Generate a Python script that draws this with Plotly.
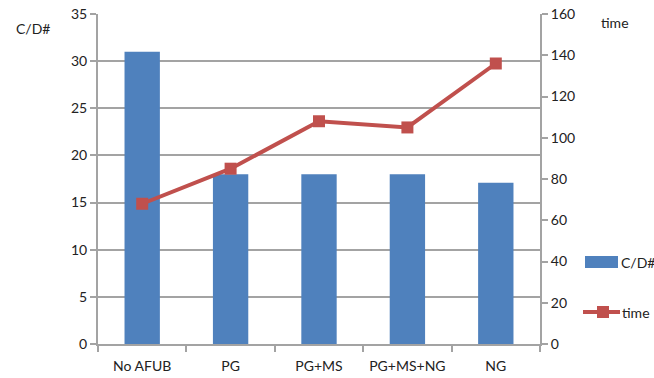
import plotly.graph_objects as go

categories = ["No AFUB", "PG", "PG+MS", "PG+MS+NG", "NG"]
cd_values = [31, 18, 18, 18, 17.1]
time_values = [68, 85, 108, 105, 136]

BLUE = "#4F81BD"
RED = "#C0504D"
GRID = "#A3A3A3"
FONT = "Lato"

fig = go.Figure()
fig.add_trace(go.Bar(x=categories, y=cd_values, name="C/D#", marker_color=BLUE,
                     marker_line_width=0, yaxis="y"))
fig.add_trace(go.Scatter(x=categories, y=time_values, name="time", mode="lines+markers",
                         line=dict(color=RED, width=4),
                         marker=dict(symbol="square", size=12, color=RED),
                         yaxis="y2"))

fig.update_layout(
    width=654, height=378,
    margin=dict(l=98, r=114, t=14, b=34),
    paper_bgcolor="white", plot_bgcolor="white",
    font=dict(family=FONT, size=14, color="#222"),
    showlegend=False,
    bargap=0.6,
    xaxis=dict(showline=True, linecolor=GRID, linewidth=2, ticks="outside",
               tickson="boundaries", ticklen=6, tickcolor=GRID, tickwidth=2,
               showgrid=False, tickfont=dict(size=14), automargin=False,
               ticklabelstandoff=8),
    yaxis=dict(range=[0, 35], dtick=5, showline=True, linecolor=GRID, linewidth=2,
               ticks="outside", ticklen=6, tickcolor=GRID, tickwidth=2,
               showgrid=True, gridcolor=GRID, gridwidth=2, zeroline=False,
               tickfont=dict(size=14), automargin=False),
    yaxis2=dict(range=[0, 160], dtick=20, overlaying="y", side="right",
                showline=True, linecolor=GRID, linewidth=2,
                ticks="outside", ticklen=6, tickcolor=GRID, tickwidth=2,
                showgrid=False, zeroline=False, tickfont=dict(size=14),
                automargin=False),
)

# axis titles
fig.add_annotation(text="C/D#", xref="paper", yref="paper", x=(14 - 98) / 442,
                   y=(344 - 28) / 330, xanchor="left", yanchor="middle",
                   showarrow=False, font=dict(size=14))
fig.add_annotation(text="time", xref="paper", yref="paper", x=(599 - 98) / 442,
                   y=(344 - 22) / 330, xanchor="left", yanchor="middle",
                   showarrow=False, font=dict(size=14))

# legend drawn by hand: wide bar swatch and line-with-marker swatch
fig.add_shape(type="rect", xref="paper", yref="paper",
              x0=(585 - 98) / 442, x1=(618 - 98) / 442,
              y0=(344 - 268) / 330, y1=(344 - 256) / 330,
              fillcolor=BLUE, line_width=0)
fig.add_annotation(text="C/D#", xref="paper", yref="paper", x=(619 - 98) / 442,
                   y=(344 - 262) / 330, xanchor="left", yanchor="middle",
                   showarrow=False, font=dict(size=14))
fig.add_shape(type="line", xref="paper", yref="paper",
              x0=(583 - 98) / 442, x1=(620 - 98) / 442,
              y0=(344 - 312) / 330, y1=(344 - 312) / 330,
              line=dict(color=RED, width=4))
fig.add_shape(type="rect", xref="paper", yref="paper",
              x0=(597 - 98) / 442, x1=(609 - 98) / 442,
              y0=(344 - 318) / 330, y1=(344 - 306) / 330,
              fillcolor=RED, line_width=0)
fig.add_annotation(text="time", xref="paper", yref="paper", x=(620 - 98) / 442,
                   y=(344 - 312) / 330, xanchor="left", yanchor="middle",
                   showarrow=False, font=dict(size=14))

fig.write_html("out.html")
